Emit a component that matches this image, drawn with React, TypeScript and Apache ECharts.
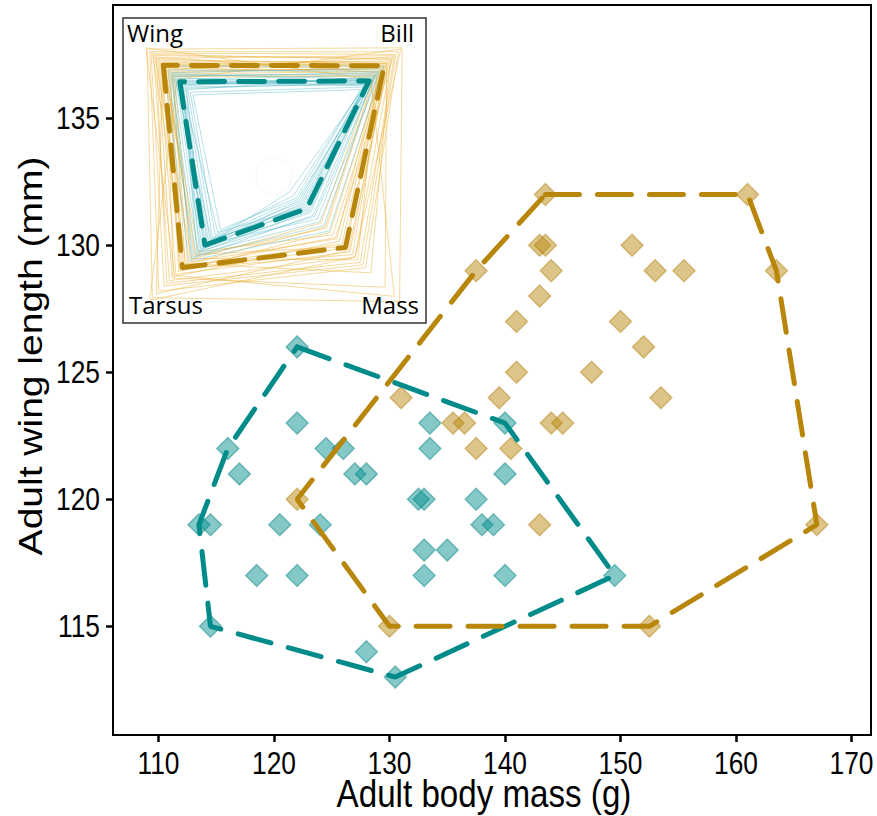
import React, { useEffect, useRef } from "react";
import * as echarts from "echarts";

// Main scatter: [body mass (g), wing length (mm)]
const tealBirds: [number, number][] = [
  [122, 126], [122, 123], [116, 122], [117, 121], [124.5, 122], [126, 122],
  [127, 121], [128, 121], [113.5, 119], [114.5, 119], [120.5, 119], [124, 119],
  [118.5, 117], [122, 117], [114.5, 115], [128, 114], [130.5, 113], [133, 118],
  [133, 117], [133.5, 123], [133.5, 122], [140, 123], [140, 121], [132.5, 120],
  [133, 120], [137.5, 120], [138, 119], [139, 119], [135, 118], [140, 117],
  [149.5, 117],
];
const goldBirds: [number, number][] = [
  [143.5, 132], [161, 132], [137.5, 129], [143, 130], [143.5, 130], [144, 129],
  [143, 128], [141, 127], [141, 125], [151, 130], [153, 129], [155.5, 129],
  [163.5, 129], [150, 127], [152, 126], [147.5, 125], [153.5, 124], [131, 124],
  [139.5, 124], [135.5, 123], [136.5, 123], [144, 123], [145, 123], [137.5, 122],
  [140.5, 122], [143, 119], [122, 120], [130, 115], [152.5, 115], [167, 119],
];
// Convex hulls (vertices in drawing order)
const tealHull: [number, number][] = [
  [122, 126], [140, 123], [149.5, 117], [130.5, 113], [114.5, 115], [113.5, 119], [116, 122], [122, 126],
];
const goldHull: [number, number][] = [
  [143.5, 132], [161, 132], [163.5, 129], [167, 119], [152.5, 115], [130, 115], [122, 120], [137.5, 129], [143.5, 132],
];

const xTicks = [110, 120, 130, 140, 150, 160, 170];
const yTicks = [115, 120, 125, 130, 135];
const xTitle = "Adult body mass (g)";
const yTitle = "Adult wing length (mm)";

// Inset radar: axes order [Wing, Tarsus, Mass, Bill], scaled 0..1
const radarAxes = ["Wing", "Tarsus", "Mass", "Bill"];
const goldMean = [0.846, 0.70, 0.546, 0.843];
const tealMean = [0.72, 0.528, 0.25, 0.727];
const goldIndividuals: number[][] = [
  [0.86, 0.72, 0.55, 0.84], [0.92, 0.80, 0.62, 0.90], [0.78, 0.66, 0.48, 0.80],
  [0.95, 0.88, 0.70, 0.95], [0.83, 0.61, 0.40, 0.78], [0.88, 0.75, 0.58, 0.87],
  [0.80, 0.69, 0.52, 0.82], [0.97, 0.93, 0.96, 0.98], [0.84, 0.58, 0.45, 0.86],
  [0.90, 0.82, 0.66, 0.92], [0.76, 0.64, 0.36, 0.76], [0.87, 0.71, 0.60, 0.85],
  [0.82, 0.77, 0.50, 0.81], [0.93, 0.67, 0.74, 0.89], [0.79, 0.73, 0.43, 0.83],
  [0.85, 0.90, 0.57, 0.88], [0.91, 0.63, 0.64, 0.79], [0.81, 0.70, 0.47, 0.91],
  [0.89, 0.78, 0.85, 0.86], [0.84, 0.60, 0.54, 0.84], [0.77, 0.68, 0.39, 0.77],
  [0.94, 0.84, 0.68, 0.93], [0.98, 0.76, 0.92, 0.74], [0.74, 0.95, 0.62, 0.97],
];
const tealIndividuals: number[][] = [
  [0.72, 0.53, 0.25, 0.73], [0.68, 0.49, 0.20, 0.70], [0.77, 0.58, 0.31, 0.78],
  [0.64, 0.45, 0.15, 0.68], [0.81, 0.62, 0.38, 0.80], [0.70, 0.51, 0.22, 0.74],
  [0.75, 0.56, 0.28, 0.71], [0.66, 0.47, 0.18, 0.76], [0.79, 0.60, 0.35, 0.82],
  [0.71, 0.43, 0.24, 0.69], [0.73, 0.55, 0.12, 0.72], [0.69, 0.59, 0.27, 0.75],
  [0.84, 0.65, 0.42, 0.84], [0.62, 0.41, 0.17, 0.66], [0.74, 0.52, 0.33, 0.77],
  [0.70, 0.57, 0.21, 0.73], [0.76, 0.48, 0.26, 0.79], [0.67, 0.54, 0.19, 0.71],
  [0.78, 0.63, 0.30, 0.74], [0.72, 0.50, 0.23, 0.70],
];

const TEAL = "#008B8B";
const GOLD = "#B8860B";
const mainFont = "'Liberation Sans', Arial, sans-serif";
const insetFont = "'Open Sans', 'Noto Sans', sans-serif";
const SQUEEZE = 0.85;

export default function App() {
  const ref = useRef<HTMLDivElement>(null);
  useEffect(() => {
    if (!ref.current) return;
    const chart = echarts.init(ref.current, null, { renderer: "svg" });
    const option: any = {
      animation: false,
      backgroundColor: "#fff",
      grid: {
        left: 113, top: 5, right: 6, bottom: 81,
        show: true, borderColor: "#000", borderWidth: 2, backgroundColor: "transparent",
      },
      xAxis: {
        type: "value", min: 106.06, max: 171.69,
        axisLine: { show: true, lineStyle: { color: "#000", width: 2 } },
        axisTick: { show: true, customValues: xTicks, length: 7, lineStyle: { color: "#000", width: 2.5 } },
        axisLabel: { show: false, customValues: xTicks },
        splitLine: { show: false },
      },
      yAxis: {
        type: "value", min: 110.72, max: 139.46,
        axisLine: { show: true, lineStyle: { color: "#000", width: 2 } },
        axisTick: { show: true, customValues: yTicks, length: 7, lineStyle: { color: "#000", width: 2.5 } },
        axisLabel: { show: false, customValues: yTicks },
        splitLine: { show: false },
      },
      radar: {
        center: [274, 176],
        radius: 185,
        startAngle: 135,
        shape: "circle",
        indicator: radarAxes.map((n) => ({ name: n, max: 1, min: 0 })),
        axisName: { show: false },
        splitLine: { show: false },
        splitArea: { show: false },
        axisLine: { show: false },
        axisTick: { show: false },
        axisLabel: { show: false },
        z: 5,
      },
      series: [
        {
          type: "scatter", data: tealBirds, symbol: "diamond", symbolSize: 22,
          itemStyle: { color: "rgba(0,139,139,0.6)", borderColor: "rgba(0,130,130,0.55)", borderWidth: 1.5 },
          z: 2,
        },
        {
          type: "scatter", data: goldBirds, symbol: "diamond", symbolSize: 22,
          itemStyle: { color: "rgba(184,134,11,0.6)", borderColor: "rgba(175,125,10,0.55)", borderWidth: 1.5 },
          z: 2,
        },
        {
          type: "line", data: tealHull, symbol: "none", showSymbol: false, z: 3,
          lineStyle: { color: TEAL, width: 5, type: [34, 18], cap: "round" },
        },
        {
          type: "line", data: goldHull, symbol: "none", showSymbol: false, z: 3,
          lineStyle: { color: GOLD, width: 5, type: [34, 18], cap: "round" },
        },
        {
          type: "radar", z: 5, symbol: "none",
          lineStyle: { color: "rgba(235,175,50,0.6)", width: 0.8 },
          data: goldIndividuals.map((v) => ({ value: v })),
        },
        {
          type: "radar", z: 6, symbol: "none",
          lineStyle: { color: "rgba(90,185,200,0.55)", width: 0.8 },
          data: tealIndividuals.map((v) => ({ value: v })),
        },
        {
          type: "radar", z: 7, symbol: "none",
          lineStyle: { color: GOLD, width: 5, type: [26, 14], cap: "round" },
          data: [{ value: goldMean }],
        },
        {
          type: "radar", z: 8, symbol: "none",
          lineStyle: { color: TEAL, width: 5, type: [26, 14], cap: "round" },
          data: [{ value: tealMean }],
        },
      ],
    };
    chart.setOption(option);

    // Tick labels placed through the axes' own scales, horizontally condensed like the source
    const xLabelY = 763;
    const yLabelX = 100;
    const tickLabels: any[] = [
      ...xTicks.map((v) => ({
        type: "text", z: 20,
        x: chart.convertToPixel({ xAxisIndex: 0 }, v) as number,
        y: xLabelY, scaleX: SQUEEZE,
        style: { text: String(v), font: `31px ${mainFont}`, fill: "#000", textAlign: "center", textVerticalAlign: "middle" },
      })),
      ...yTicks.map((v) => ({
        type: "text", z: 20,
        x: yLabelX,
        y: chart.convertToPixel({ yAxisIndex: 0 }, v) as number,
        scaleX: SQUEEZE,
        style: { text: String(v), font: `31px ${mainFont}`, fill: "#000", textAlign: "right", textVerticalAlign: "middle" },
      })),
    ];

    chart.setOption({
      graphic: [
        {
          type: "rect", z: 1,
          shape: { x: 123, y: 18, width: 303, height: 305 },
          style: { fill: "#fff", stroke: "#333", lineWidth: 1.5 },
        },
        { type: "circle", z: 2, shape: { cx: 274, cy: 176, r: 18 }, style: { fill: "none", stroke: "#f6f6f6", lineWidth: 1 } },
        { type: "circle", z: 2, shape: { cx: 274, cy: 176, r: 110 }, style: { fill: "none", stroke: "#f6f6f6", lineWidth: 1 } },
        {
          type: "text", z: 20, x: 127, y: 32,
          style: { text: "Wing", font: `24px ${insetFont}`, fill: "#000", textAlign: "left", textVerticalAlign: "middle" },
        },
        {
          type: "text", z: 20, x: 414, y: 32,
          style: { text: "Bill", font: `24px ${insetFont}`, fill: "#000", textAlign: "right", textVerticalAlign: "middle" },
        },
        {
          type: "text", z: 20, x: 129, y: 304,
          style: { text: "Tarsus", font: `24px ${insetFont}`, fill: "#000", textAlign: "left", textVerticalAlign: "middle" },
        },
        {
          type: "text", z: 20, x: 419, y: 304,
          style: { text: "Mass", font: `24px ${insetFont}`, fill: "#000", textAlign: "right", textVerticalAlign: "middle" },
        },
        {
          type: "text", z: 20, x: 484, y: 794, scaleX: SQUEEZE,
          style: { text: xTitle, font: `39px ${mainFont}`, fill: "#000", textAlign: "center", textVerticalAlign: "middle" },
        },
        {
          type: "text", z: 20, x: 31, y: 356, rotation: Math.PI / 2, scaleY: SQUEEZE,
          style: { text: yTitle, font: `39px ${mainFont}`, fill: "#000", textAlign: "center", textVerticalAlign: "middle" },
        },
        ...tickLabels,
      ],
    });
    return () => chart.dispose();
  }, []);
  return <div ref={ref} style={{ position: "fixed", left: 0, top: 0, width: 877, height: 816 }} />;
}
